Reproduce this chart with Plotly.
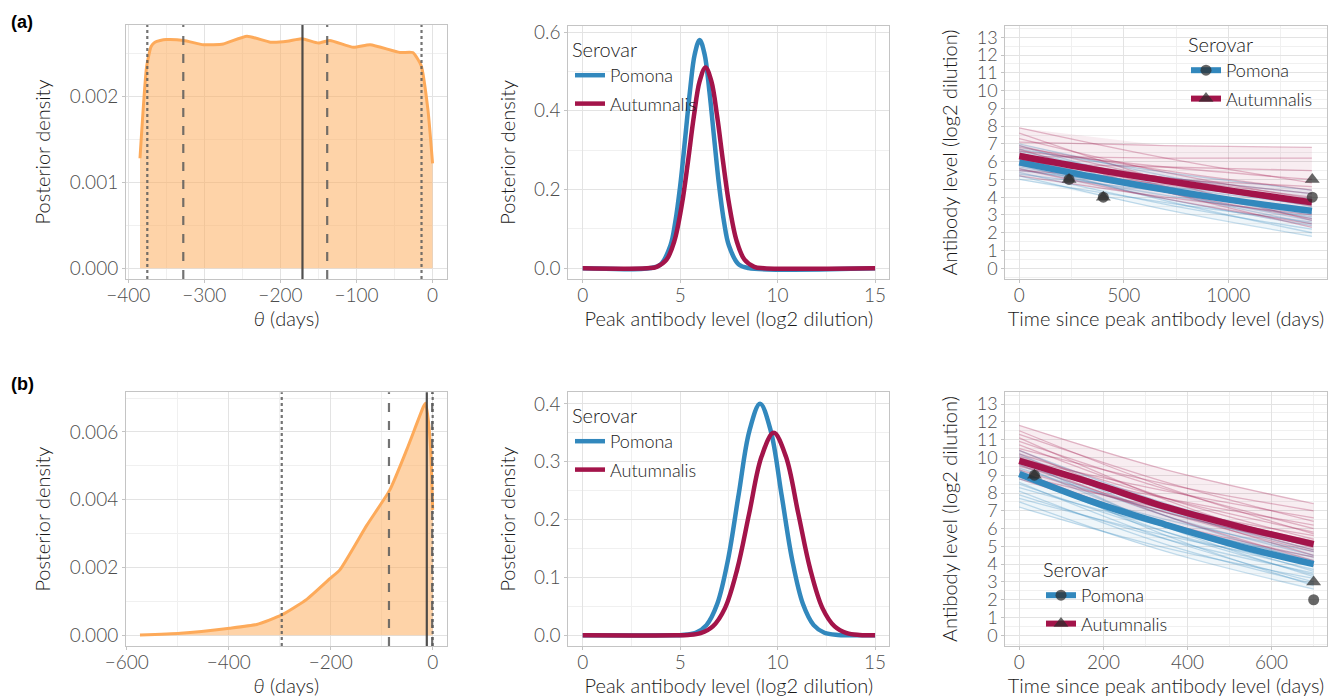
import plotly.graph_objects as go

W, H = 1344, 698

# ---------------- data ----------------
# (a) row, panel 1: posterior density of theta
a1_theta = [-384.6, -376, -370, -365, -358, -350, -327, -301, -275, -244, -213, -191, -172, -150, -135,
            -104, -82, -43, -26, -15, -6, 0]
a1_dens = [0.00128, 0.00234, 0.00258, 0.00263, 0.00265, 0.00266, 0.00265, 0.00260, 0.00261, 0.00270,
           0.00263, 0.00264, 0.00267, 0.00262, 0.00265, 0.00257, 0.00260, 0.00251, 0.00251, 0.00236,
           0.00184, 0.00122]
a1_solid = [-171]
a1_dashed = [-327.7, -138.5]
a1_dotted = [-375, -14.5]

# (b) row, panel 1
b1_theta = [-574, -495, -398, -345, -296, -247, -201, -182, -129, -84, -51, -18, -14, -9, -4, 0]
b1_dens = [0.00001, 0.00006, 0.00021, 0.00032, 0.00060, 0.00106, 0.00168, 0.00193, 0.00325, 0.00429,
           0.00547, 0.00675, 0.00685, 0.00640, 0.00550, 0.00370]
b1_solid = [-11.5]
b1_dashed = [-85.7, -1]
b1_dotted = [-296, 0]

# panel 2: peak antibody level densities
a2_x_pom = [0, 3.5, 4, 4.5, 4.75, 5, 5.25, 5.5, 5.75, 6, 6.25, 6.5, 6.75, 7, 7.25, 7.5, 8, 8.5, 15]
a2_y_pom = [0, 0.001, 0.010, 0.058, 0.118, 0.209, 0.327, 0.449, 0.544, 0.58, 0.544, 0.449, 0.327, 0.209,
            0.118, 0.058, 0.010, 0.001, 0]
a2_x_aut = [0, 3.3, 3.8, 4.3, 4.7, 5.1, 5.4, 5.7, 6.0, 6.3, 6.6, 6.9, 7.2, 7.5, 7.9, 8.3, 8.8, 9.3, 15]
a2_y_aut = [0, 0.0005, 0.004, 0.022, 0.069, 0.166, 0.271, 0.385, 0.475, 0.51, 0.475, 0.385, 0.271, 0.166,
            0.069, 0.022, 0.004, 0.0005, 0]
b2_x_pom = [0, 4.6, 5.1, 5.8, 6.35, 6.9, 7.45, 8.0, 8.55, 9.1, 9.65, 10.2, 10.75, 11.3, 11.85, 12.4, 13.1,
            13.6, 15]
b2_y_pom = [0, 0, 0.0005, 0.0044, 0.0176, 0.054, 0.130, 0.243, 0.353, 0.40, 0.353, 0.243, 0.130, 0.054,
            0.0176, 0.0044, 0.0005, 0, 0]
b2_x_aut = [0, 4.8, 5.4, 6.05, 6.675, 7.3, 7.925, 8.55, 9.175, 9.8, 10.425, 11.05, 11.675, 12.3, 12.925,
            13.55, 14.2, 15]
b2_y_aut = [0, 0, 0.0007, 0.0039, 0.0154, 0.047, 0.114, 0.212, 0.309, 0.35, 0.309, 0.212, 0.114, 0.047,
            0.0154, 0.0039, 0.0007, 0]

# panel 3: antibody decay curves (posterior draws: start / middle / end values)
a3_t = [0, 700, 1400]
a3_pom_start = [5.0, 5.2, 5.3, 5.4, 5.5, 5.6, 5.7, 5.8, 5.9, 5.9, 6.0, 6.1, 6.2, 6.3, 6.4, 6.5, 6.6, 6.7, 6.9, 7.0]
a3_pom_mid = [3.7, 3.3, 4.3, 3.6, 4.6, 4.1, 4.3, 3.9, 4.6, 4.5, 3.8, 5.1, 4.4, 4.3, 5.0, 4.3, 4.9, 5.4, 4.6, 5.2]
a3_pom_end = [2.6, 1.8, 3.4, 2.2, 3.9, 2.9, 3.1, 2.4, 3.6, 3.3, 2.0, 4.2, 3.0, 2.7, 3.8, 2.5, 3.5, 4.4, 2.8, 3.7]
a3_aut_start = [5.2, 5.5, 5.6, 5.8, 5.9, 6.0, 6.1, 6.2, 6.3, 6.3, 6.4, 6.5, 6.6, 6.7, 6.8, 6.9, 7.1, 7.3, 7.6, 7.9]
a3_aut_mid = [4.0, 5.0, 3.9, 4.7, 5.7, 4.5, 5.1, 4.3, 6.2, 4.8, 5.1, 4.6, 5.7, 4.3, 5.5, 5.0, 6.9, 5.4, 4.9, 6.2]
a3_aut_end = [3.0, 4.6, 2.5, 3.8, 5.5, 3.3, 4.2, 2.8, 6.2, 3.6, 4.0, 3.1, 5.0, 2.3, 4.4, 3.5, 6.8, 3.9, 2.7, 4.8]
a3_mean_t = [0, 350, 700, 1050, 1400]
a3_mean_pom = [5.96, 5.15, 4.42, 3.78, 3.23]
a3_mean_aut = [6.32, 5.58, 4.93, 4.30, 3.71]
a3_obs_t_pom = [238, 402, 1402]
a3_obs_y_pom = [5, 4, 4]
a3_obs_t_aut = [238, 402, 1402]
a3_obs_y_aut = [5, 4, 5]

b3_t = [0, 350, 700]
b3_pom_start = [7.2, 7.5, 7.7, 7.9, 8.1, 8.3, 8.5, 8.6, 8.8, 8.9, 9.0, 9.1, 9.3, 9.4, 9.6, 9.7, 9.9, 10.0, 10.2, 10.4]
b3_pom_mid = [4.9, 4.7, 5.6, 5.4, 5.1, 6.1, 5.8, 5.4, 6.5, 6.1, 5.8, 6.3, 5.6, 6.9, 6.2, 6.7, 6.1, 7.0, 6.7, 7.4]
b3_pom_end = [3.2, 2.6, 4.0, 3.5, 2.9, 4.4, 3.7, 3.0, 4.7, 3.9, 3.4, 4.2, 2.8, 5.0, 3.6, 4.5, 3.3, 4.8, 4.1, 5.2]
b3_aut_start = [8.8, 9.0, 9.2, 9.3, 9.5, 9.6, 9.7, 9.8, 9.9, 10.0, 10.1, 10.2, 10.4, 10.5, 10.7, 10.9, 11.1, 11.3, 11.5, 11.8]
b3_aut_mid = [6.3, 7.1, 6.2, 6.9, 7.7, 6.9, 7.2, 6.7, 8.1, 7.3, 7.1, 7.7, 7.1, 8.5, 7.7, 8.2, 7.6, 8.6, 8.3, 9.3]
b3_aut_end = [4.4, 5.6, 3.9, 5.0, 6.2, 4.7, 5.3, 4.2, 6.6, 5.1, 4.8, 5.8, 4.5, 7.0, 5.4, 6.0, 4.9, 6.4, 5.7, 7.4]
b3_mean_t = [0, 175, 350, 525, 700]
b3_mean_pom = [9.07, 7.5, 6.2, 5.0, 4.0]
b3_mean_aut = [9.8, 8.55, 7.2, 6.1, 5.13]
b3_obs_t_pom = [36, 700]
b3_obs_y_pom = [9, 2]
b3_obs_t_aut = [36, 700]
b3_obs_y_aut = [9, 3]

serovars = ["Pomona", "Autumnalis"]

# ---------------- styles ----------------
BLUE = "#3288BD"
RED = "#A3144A"
ORANGE = "#FDAA5A"
FILL = "rgba(253,174,97,0.55)"
FONT = "Lato"
TICKC = "#4D4D4D"
TITLEC = "#1A1A1A"
PT = "rgba(45,45,45,0.72)"


def fx(p):
    return p / W


def fy(p):
    return 1 - p / H


fig = go.Figure()

# -------- panel 1 traces --------
fig.add_trace(go.Scatter(x=a1_theta, y=a1_dens, mode="lines", fill="tozeroy", fillcolor=FILL,
                         line=dict(color=ORANGE, width=3, shape="spline", smoothing=0.5),
                         showlegend=False, xaxis="x", yaxis="y"))
fig.add_trace(go.Scatter(x=b1_theta, y=b1_dens, mode="lines", fill="tozeroy", fillcolor=FILL,
                         line=dict(color=ORANGE, width=3, shape="spline", smoothing=0.5),
                         showlegend=False, xaxis="x4", yaxis="y4"))

# -------- panel 2 traces --------
for (xs, ys, col, name, ax, ay, lg) in [
    (a2_x_pom, a2_y_pom, BLUE, serovars[0], "x2", "y2", "legend"),
    (a2_x_aut, a2_y_aut, RED, serovars[1], "x2", "y2", "legend"),
    (b2_x_pom, b2_y_pom, BLUE, serovars[0], "x5", "y5", "legend3"),
    (b2_x_aut, b2_y_aut, RED, serovars[1], "x5", "y5", "legend3"),
]:
    fig.add_trace(go.Scatter(x=xs, y=ys, mode="lines", name=name, legendgroup=name,
                             line=dict(color=col, width=4.5, shape="spline", smoothing=1.0),
                             xaxis=ax, yaxis=ay, legend=lg))


# -------- panel 3 traces --------
def draws(t, s, m, e):
    xs, ys = [], []
    for i in range(len(s)):
        xs += [t[0], t[1], t[2], None]
        ys += [s[i], m[i], e[i], None]
    return xs, ys


for (t, groups, mt, mp, ma, ax, ay, otp, oyp, ota, oya, lg) in [
    (a3_t, [(a3_pom_start, a3_pom_mid, a3_pom_end, (50, 136, 189)),
            (a3_aut_start, a3_aut_mid, a3_aut_end, (163, 20, 74))],
     a3_mean_t, a3_mean_pom, a3_mean_aut, "x3", "y3",
     a3_obs_t_pom, a3_obs_y_pom, a3_obs_t_aut, a3_obs_y_aut, "legend2"),
    (b3_t, [(b3_pom_start, b3_pom_mid, b3_pom_end, (50, 136, 189)),
            (b3_aut_start, b3_aut_mid, b3_aut_end, (163, 20, 74))],
     b3_mean_t, b3_mean_pom, b3_mean_aut, "x6", "y6",
     b3_obs_t_pom, b3_obs_y_pom, b3_obs_t_aut, b3_obs_y_aut, "legend4"),
]:
    for (s, m, e, c) in groups:
        rgb = "%d,%d,%d" % c
        upper = [max(s), max(m), max(e)]
        lower = [min(s), min(m), min(e)]
        fig.add_trace(go.Scatter(x=list(t) + list(t)[::-1], y=upper + lower[::-1], mode="lines",
                                 fill="toself", fillcolor="rgba(%s,0.08)" % rgb,
                                 line=dict(width=0), showlegend=False,
                                 hoverinfo="skip", xaxis=ax, yaxis=ay))
        xs, ys = draws(t, s, m, e)
        fig.add_trace(go.Scatter(x=xs, y=ys, mode="lines",
                                 line=dict(color="rgba(%s,0.28)" % rgb, width=1.3, shape="spline"),
                                 connectgaps=False, showlegend=False, hoverinfo="skip",
                                 xaxis=ax, yaxis=ay))
    fig.add_trace(go.Scatter(x=mt, y=mp, mode="lines", line=dict(color=BLUE, width=6.5, shape="spline"),
                             showlegend=False, xaxis=ax, yaxis=ay))
    fig.add_trace(go.Scatter(x=mt, y=ma, mode="lines", line=dict(color=RED, width=6.5, shape="spline"),
                             showlegend=False, xaxis=ax, yaxis=ay))
    fig.add_trace(go.Scatter(x=otp, y=oyp, mode="markers",
                             marker=dict(symbol="circle", size=11, color=PT),
                             showlegend=False, xaxis=ax, yaxis=ay))
    fig.add_trace(go.Scatter(x=ota, y=oya, mode="markers",
                             marker=dict(symbol="triangle-up", size=13, color=PT),
                             showlegend=False, xaxis=ax, yaxis=ay))
    # legend entries
    fig.add_trace(go.Scatter(x=[None], y=[None], mode="lines+markers", name=serovars[0],
                             legendgroup=serovars[0],
                             line=dict(color=BLUE, width=6),
                             marker=dict(symbol="circle", size=11, color=PT),
                             xaxis=ax, yaxis=ay, legend=lg))
    fig.add_trace(go.Scatter(x=[None], y=[None], mode="lines+markers", name=serovars[1],
                             legendgroup=serovars[1],
                             line=dict(color=RED, width=6),
                             marker=dict(symbol="triangle-up", size=13, color=PT),
                             xaxis=ax, yaxis=ay, legend=lg))

# -------- vertical reference lines --------
shapes = []
for (vals, dash, col, xr, yr) in [
    (a1_dotted, "dot", "rgba(90,90,90,0.85)", "x", "y domain"),
    (a1_dashed, "dash", "rgba(90,90,90,0.85)", "x", "y domain"),
    (a1_solid, "solid", "rgba(60,60,60,0.9)", "x", "y domain"),
    (b1_dotted, "dot", "rgba(90,90,90,0.85)", "x4", "y4 domain"),
    (b1_dashed, "dash", "rgba(90,90,90,0.85)", "x4", "y4 domain"),
    (b1_solid, "solid", "rgba(60,60,60,0.9)", "x4", "y4 domain"),
]:
    for v in vals:
        shapes.append(dict(type="line", xref=xr, yref=yr, x0=v, x1=v, y0=0, y1=1,
                           line=dict(color=col, width=2.2, dash=dash)))


# -------- axes --------
def axis(domain, rng, dtick, minor_dtick, tick0=0, fmt=None, title=None, standoff=6, anchor=None,
         tls=0, tsize=19):
    d = dict(domain=domain, range=rng, dtick=dtick, tick0=tick0, showline=True, mirror=True,
             linecolor="#C4C4C4", linewidth=1, ticks="outside", ticklen=3, tickcolor="#C4C4C4",
             showgrid=True, gridcolor="#E3E3E3", gridwidth=1, zeroline=False,
             tickfont=dict(family=FONT, size=tsize, color=TICKC, weight=300),
             ticklabelstandoff=tls,
             minor=dict(showgrid=True, dtick=minor_dtick, tick0=tick0, gridcolor="#F0F0F0", gridwidth=0.8),
             title=dict(text=title, font=dict(family=FONT, size=20, color=TITLEC, weight=300),
                        standoff=standoff),
             anchor=anchor, automargin=False)
    if fmt:
        d["tickformat"] = fmt
    return d


panels = [
    # name, xdom px, ydom px, xrange, yrange, xd, xminor, yd, yminor, yfmt, xtitle, ytitle, ytick size
    ("", (126, 447), (25, 279), [-403, 19], [-0.000124, 0.00283], 100, 50, 0.001, 0.0005, ".3f",
     "<i>θ</i> (days)", "Posterior density", 19),
    ("2", (568.3, 889.3), (25.7, 279), [-0.74, 15.73], [-0.027, 0.616], 5, 2.5, 0.2, 0.1, ".1f",
     "Peak antibody level (log2 dilution)", "Posterior density", 19),
    ("3", (1005.3, 1326.7), (25.7, 279.3), [-67, 1471], [-0.62, 13.65], 500, 250, 1, 0.5, None,
     "Time since peak antibody level (days)", "Antibody level (log2 dilution)", 18),
    ("4", (126, 446.7), (392.3, 646), [-601.4, 27.5], [-0.000316, 0.00717], 200, 100, 0.002, 0.001, ".3f",
     "<i>θ</i> (days)", "Posterior density", 19),
    ("5", (568.3, 889.3), (392.3, 646), [-0.74, 15.73], [-0.0185, 0.420], 5, 2.5, 0.1, 0.05, ".1f",
     "Peak antibody level (log2 dilution)", "Posterior density", 19),
    ("6", (1005.3, 1326.7), (392.3, 646), [-33.3, 731], [-0.6, 13.66], 200, 100, 1, 0.5, None,
     "Time since peak antibody level (days)", "Antibody level (log2 dilution)", 18),
]

layout = dict(width=W, height=H, margin=dict(l=0, r=0, t=0, b=0), paper_bgcolor="white",
              plot_bgcolor="white", shapes=shapes, showlegend=True)
for (n, xd, yd, xr, yr, xdt, xmn, ydt, ymn, yfmt, xt, yt, ys) in panels:
    layout["xaxis" + n] = axis([fx(xd[0]), fx(xd[1])], xr, xdt, xmn, title=xt, standoff=0,
                               anchor="y" + n, tls=-4)
    layout["yaxis" + n] = axis([fy(yd[1]), fy(yd[0])], yr, ydt, ymn, fmt=yfmt, title=yt, standoff=13,
                               anchor="x" + n, tsize=ys)


def legend(xp, yp):
    return dict(x=fx(xp), y=fy(yp), xanchor="left", yanchor="top", bgcolor="rgba(0,0,0,0)",
                title=dict(text="Serovar", font=dict(family=FONT, size=20, color=TITLEC, weight=300)),
                font=dict(family=FONT, size=18, color=TITLEC, weight=300), tracegroupgap=2,
                itemwidth=30)


layout["legend"] = legend(570, 31)
layout["legend2"] = legend(1186, 26)
layout["legend3"] = legend(570, 397)
layout["legend4"] = legend(1041, 551)

layout["annotations"] = [
    dict(text="<b>(a)</b>", x=fx(9), y=fy(22), xref="paper", yref="paper", xanchor="left",
         yanchor="middle", showarrow=False, font=dict(family="Liberation Sans", size=18, color="black")),
    dict(text="<b>(b)</b>", x=fx(9), y=fy(384), xref="paper", yref="paper", xanchor="left",
         yanchor="middle", showarrow=False, font=dict(family="Liberation Sans", size=18, color="black")),
]

fig.update_layout(**layout)
fig.write_html("out.html", config={"displayModeBar": False},
               post_script="document.body.style.margin='0';document.body.style.overflow='hidden';")
